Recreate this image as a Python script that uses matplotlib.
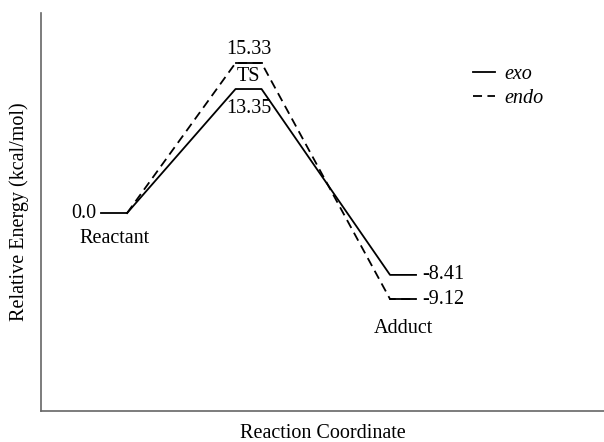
import numpy as np
import matplotlib
matplotlib.use("Agg")
import matplotlib.pyplot as plt

plt.rcParams['font.family'] = ['Liberation Serif', 'DejaVu Serif']

# stages along the reaction coordinate
stages = ['Reactant', 'TS', 'Adduct']
stage_x = [0.73, 2.075, 3.62]
half_w = 0.13

# energies printed on the diagram (kcal/mol)
exo_energy = [0.0, 13.35, -8.41]
endo_energy = [0.0, 15.33, -9.12]
# heights at which the levels are drawn (diagram is schematic)
exo_level = [0.0, 13.35, -6.65]
endo_level = [0.0, 16.15, -9.25]

fig = plt.figure(figsize=(6.04, 4.42), dpi=100)
ax = fig.add_axes([0.068, 0.070, 0.932, 0.900])


def profile(levels):
    xs, ys = [], []
    for x, y in zip(stage_x, levels):
        xs += [x - half_w, x + half_w]
        ys += [y, y]
    return xs, ys


xe, ye = profile(exo_level)
xn, yn = profile(endo_level)
ax.plot(xe[1:], ye[1:], color='black', lw=1.3, label='exo')
ax.plot(xn[1:], yn[1:], color='black', lw=1.3, ls=(0, (5, 3)), label='endo')
# solid levels
ax.plot(xe[:2], ye[:2], color='black', lw=1.3)
for i in (1, 2):
    ax.plot(xn[2 * i:2 * i + 2], yn[2 * i:2 * i + 2], color='black', lw=1.3)

fs = 14.5
ax.text(stage_x[0] - half_w - 0.05, exo_energy[0], '%.1f' % exo_energy[0],
        ha='right', va='center', fontsize=fs)
ax.text(stage_x[0], -2.7, stages[0], ha='center', va='center', fontsize=fs)
ax.text(stage_x[1], endo_level[1] + 1.5, '%.2f' % endo_energy[1],
        ha='center', va='center', fontsize=fs)
ax.text(stage_x[1], 14.7, stages[1], ha='center', va='center', fontsize=fs)
ax.text(stage_x[1], exo_level[1] - 2.1, '%.2f' % exo_energy[1],
        ha='center', va='center', fontsize=fs)
ax.text(stage_x[2] + half_w + 0.06, exo_level[2], '%.2f' % exo_energy[2],
        ha='left', va='center', fontsize=fs)
ax.text(stage_x[2] + half_w + 0.06, endo_level[2], '%.2f' % endo_energy[2],
        ha='left', va='center', fontsize=fs)
ax.text(stage_x[2], -12.4, stages[2], ha='center', va='center', fontsize=fs)

ax.legend(loc='upper left', bbox_to_anchor=(0.735, 0.915), frameon=False,
          handlelength=1.1, handletextpad=0.45, labelspacing=0.25,
          prop={'style': 'italic', 'size': fs})

ax.set_xlim(0, 5.63)
ax.set_ylim(-21.3, 21.5)
ax.set_xticks([])
ax.set_yticks([])
for s in ('top', 'right'):
    ax.spines[s].set_visible(False)
for s in ('left', 'bottom'):
    ax.spines[s].set_color('#666666')
    ax.spines[s].set_linewidth(1.2)
ax.set_xlabel('Reaction Coordinate', fontsize=fs, labelpad=9)
ax.set_ylabel('Relative Energy (kcal/mol)', fontsize=fs, labelpad=9)

fig.savefig('out.png', dpi=100)
